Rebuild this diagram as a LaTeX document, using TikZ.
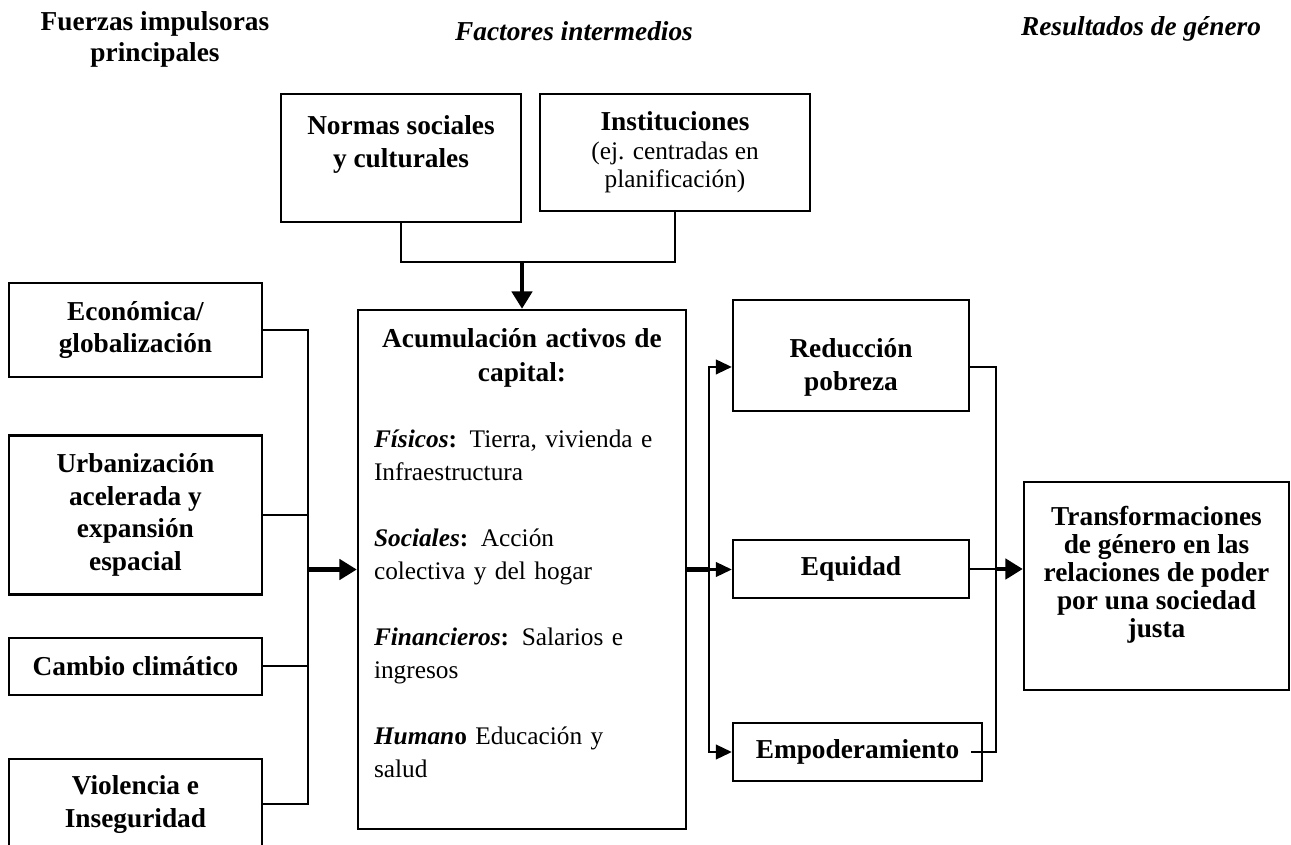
\documentclass[tikz,border=0pt]{standalone}
\usepackage{fontspec}
\setmainfont{Liberation Serif}
\usetikzlibrary{positioning,arrows.meta}

\begin{document}
\begin{tikzpicture}[
        every node/.style={font=\fontsize{19pt}{22pt}\selectfont},
        box/.style={draw, line width=1.8pt, align=center, inner sep=3pt, font=\fontsize{20.5pt}{24.5pt}\selectfont\bfseries},
        drivebox/.style={box, minimum width=189.75pt},
        outbox/.style={box, minimum width=177pt, minimum height=43.5pt},
        header/.style={align=center, font=\fontsize{20.5pt}{23pt}\selectfont\bfseries},
        headerit/.style={header, font=\fontsize{20.5pt}{23pt}\selectfont\bfseries\itshape},
        conn/.style={line width=1.6pt},
        connarrow/.style={conn, -{Triangle[length=12pt, width=11pt]}},
        bigline/.style={line width=3.5pt},
        bigarrow/.style={bigline, -{Triangle[length=13pt, width=15pt]}}
    ]
    \useasboundingbox (0,0) rectangle (968.25pt,-633.75pt);

    % Headers
    \node[header] (hdrive) at (116.25pt,-29.5pt) {Fuerzas impulsoras\\principales};
    \node[headerit] (hinter) at (430.5pt,-23.25pt) {Factores intermedios};
    \node[headerit] (hresult) at (855.75pt,-21.75pt) {Resultados de género};

    % Driving forces
    \node[drivebox, minimum height=70.5pt] (econ) at (101.6pt,-247.5pt) {Económica/\\globalización};
    \node[drivebox, minimum height=119.25pt, below=42pt of econ] (urban) {Urbanización\\acelerada y\\expansión\\espacial};
    \node[drivebox, minimum height=42.75pt, below=30.75pt of urban] (cambio) {Cambio climático};
    \node[drivebox, minimum height=67.5pt, below=46.5pt of cambio] (viol) {Violencia e\\Inseguridad};

    % Intermediate factors
    \node[box, minimum width=180pt, minimum height=96pt] (normas) at (300.75pt,-118.5pt)
    {Normas sociales\\y culturales\\\mbox{}};
    \node[box, minimum width=202.5pt, minimum height=87.75pt, font=\fontsize{19pt}{21.5pt}\selectfont] (inst) at (506.25pt,-114.375pt)
    {\textbf{\fontsize{20.5pt}{24.5pt}\selectfont Instituciones}\\(ej. centradas en\\planificación)};

    % Capital assets
    \node[box, text width=222pt, inner xsep=12pt, minimum height=389.25pt, align=left,
        font=\fontsize{19pt}{24.75pt}\selectfont] (acum) at (391.5pt,-427.125pt) {%
        {\centering\bfseries\fontsize{20.5pt}{25.5pt}\selectfont Acumulación activos de\\capital:\par}
        \vspace{24.75pt}
        \raggedright
        \textbf{\textit{Físicos}:} Tierra, vivienda e\\Infraestructura\\[24.75pt]
        \textbf{\textit{Sociales}:} Acción\\colectiva y del hogar\\[24.75pt]
        \textbf{\textit{Financieros}:} Salarios e\\ingresos\\[24.75pt]
        \textbf{\textit{Human}o} Educación y\\salud\\\mbox{}};

    % Gender outcomes
    \node[outbox, minimum height=83.25pt] (reduc) at (638.25pt,-266.625pt) {\rule{0pt}{32pt}Reducción\\pobreza};
    \node[outbox] (equid) at (638.25pt,-426.75pt) {Equidad};
    \node[outbox, minimum width=186.75pt] (empo) at (643.125pt,-564pt) {Empoderamiento};
    \node[box, minimum width=198.75pt, minimum height=156pt, font=\fontsize{20.5pt}{21pt}\selectfont\bfseries] (transf) at (867.375pt,-439.5pt)
    {Transformaciones\\de género en las\\relaciones de poder\\por una sociedad\\justa\\\mbox{}};

    % Drivers into capital assets
    \coordinate (jin) at ([xshift=-36.75pt]acum.west);
    \draw[conn] (econ.east) -| (jin);
    \draw[conn] (viol.east) -| (jin);
    \draw[conn] (urban.east) -- (urban.east -| jin);
    \draw[conn] (cambio.east) -- (cambio.east -| jin);
    \draw[bigarrow] (jin) -- (acum.west);

    % Factors into capital assets
    \coordinate (jtop) at ([yshift=35.25pt]acum.north);
    \draw[conn] (normas.south) |- (jtop) -| (inst.south);
    \draw[bigarrow] (jtop) -- (acum.north);

    % Capital assets to outcomes
    \coordinate (jout) at ([xshift=16.5pt]acum.east);
    \draw[bigline] (acum.east) -- (jout);
    \draw[connarrow] (jout) |- ([yshift=-8.6pt]reduc.west);
    \draw[connarrow] (jout) -- (jout -| equid.west);
    \draw[connarrow] (jout) |- (empo.west);

    % Outcomes to transformation
    \coordinate (jres) at ([xshift=19.5pt]equid.east);
    \draw[conn] ([yshift=-8.6pt]reduc.east) -| (jres);
    \draw[conn] (equid.east) -- (jres);
    \draw[conn] ([xshift=-9pt]empo.east) -| (jres);
    \draw[bigarrow] (jres) -- (jres -| transf.west);

\end{tikzpicture}
\end{document}
